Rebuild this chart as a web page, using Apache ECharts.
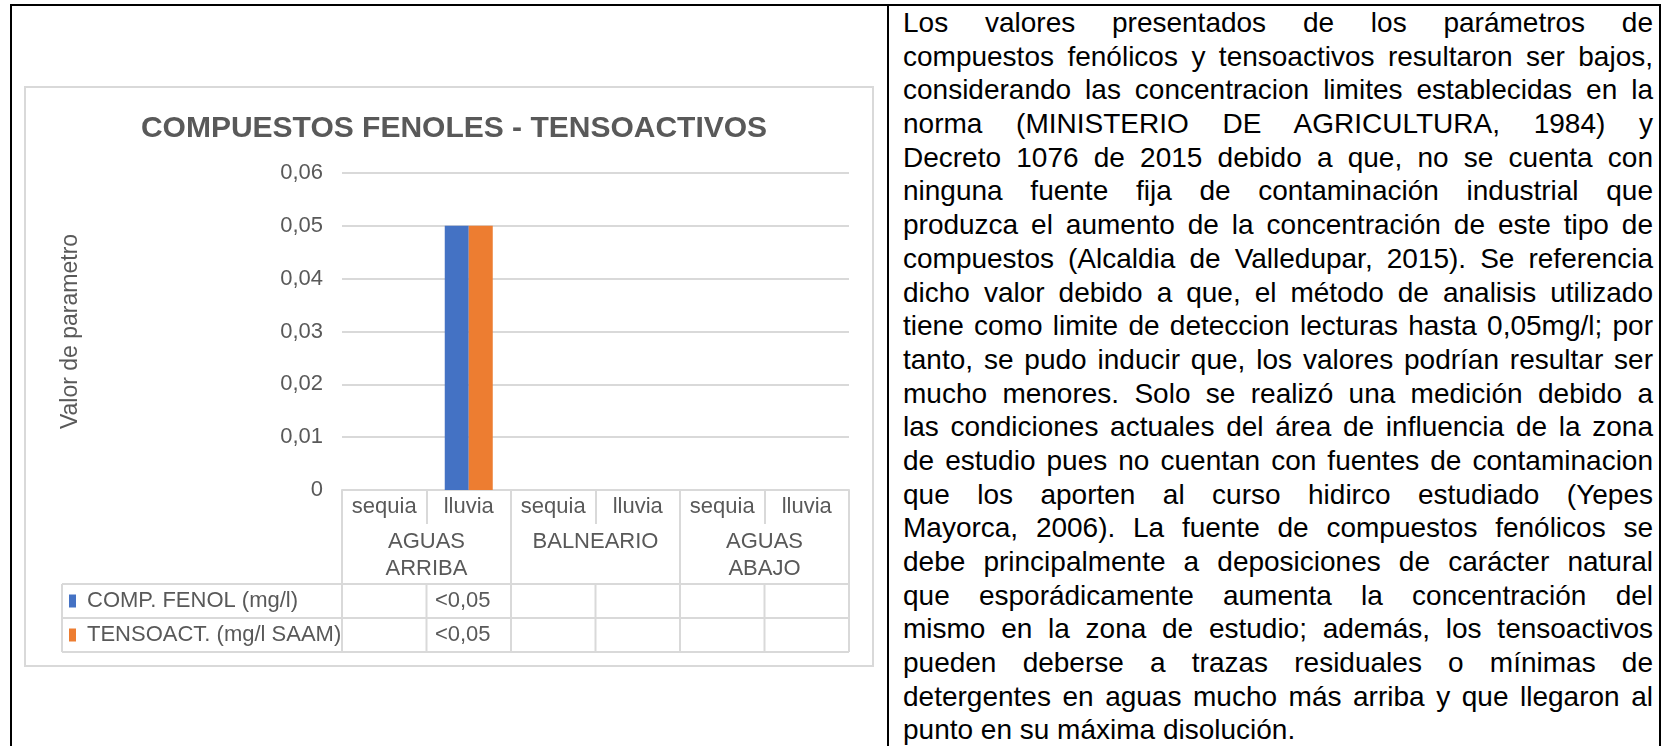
<!DOCTYPE html>
<html>
<head>
<meta charset="utf-8">
<script src="https://cdn.jsdelivr.net/npm/echarts@6/dist/echarts.min.js"></script>
<style>
  html, body { margin: 0; padding: 0; background: #fff; }
  body { width: 1661px; height: 746px; position: relative; overflow: hidden; font-family: "Liberation Sans", Arial, sans-serif; }
  .frame-top { position: absolute; left: 10px; top: 4px; width: 1651px; height: 2px; background: #000; }
  .frame-left { position: absolute; left: 10px; top: 4px; width: 2px; height: 742px; background: #000; }
  .frame-mid { position: absolute; left: 887px; top: 4px; width: 2px; height: 742px; background: #000; }
  .frame-right { position: absolute; left: 1659px; top: 4px; width: 2px; height: 742px; background: #000; }
  #chart { position: absolute; left: 0; top: 0; width: 880px; height: 746px; }
  .texto { position: absolute; left: 903px; top: 6px; width: 750px; font-size: 28px; color: #000; }
  .texto div { height: 33.7px; line-height: 33.7px; white-space: nowrap; text-align: justify; text-align-last: justify; }
  .texto div.ultima { text-align-last: left; }
</style>
</head>
<body>
<div class="frame-top"></div>
<div class="frame-left"></div>
<div class="frame-mid"></div>
<div class="frame-right"></div>
<div id="chart"></div>
<div class="texto" id="texto"></div>
<script>
// datos del grafico
const subCategories = ['sequia', 'lluvia', 'sequia', 'lluvia', 'sequia', 'lluvia'];
const stations = ['AGUAS\nARRIBA', 'BALNEARIO', 'AGUAS\nABAJO'];
const seriesNames = ['COMP. FENOL (mg/l)', 'TENSOACT. (mg/l SAAM)'];
const fenolValues = [null, 0.05, null, null, null, null];
const tensoValues = [null, 0.05, null, null, null, null];
const fenolTable = ['', '<0,05', '', '', '', ''];
const tensoTable = ['', '<0,05', '', '', '', ''];
const yMin = 0, yMax = 0.06, yStep = 0.01;

// texto del documento, una linea por renglon
const lineas = [
  'Los valores presentados de los parámetros de',
  'compuestos fenólicos y tensoactivos resultaron ser bajos,',
  'considerando las concentracion limites establecidas en la',
  'norma (MINISTERIO DE AGRICULTURA, 1984) y',
  'Decreto 1076 de 2015 debido a que, no se cuenta con',
  'ninguna fuente fija de contaminación industrial que',
  'produzca el aumento de la concentración de este tipo de',
  'compuestos (Alcaldia de Valledupar, 2015). Se referencia',
  'dicho valor debido a que, el método de analisis utilizado',
  'tiene como limite de deteccion lecturas hasta 0,05mg/l; por',
  'tanto, se pudo inducir que, los valores podrían resultar ser',
  'mucho menores. Solo se realizó una medición debido a',
  'las condiciones actuales del área de influencia de la zona',
  'de estudio pues no cuentan con fuentes de contaminacion',
  'que los aporten al curso hidirco estudiado (Yepes',
  'Mayorca, 2006). La fuente de compuestos fenólicos se',
  'debe principalmente a deposiciones de carácter natural',
  'que esporádicamente aumenta la concentración del',
  'mismo en la zona de estudio; además, los tensoactivos',
  'pueden deberse a trazas residuales o mínimas de',
  'detergentes en aguas mucho más arriba y que llegaron al',
  'punto en su máxima disolución.'
];
const texto = document.getElementById('texto');
lineas.forEach((l, i) => {
  const d = document.createElement('div');
  d.textContent = l;
  if (i === lineas.length - 1) d.className = 'ultima';
  texto.appendChild(d);
});

const colors = ['#4472C4', '#ED7D31'];
const grey = '#595959';
const lineGrey = '#d9d9d9';
const font = '"Liberation Sans", Arial, sans-serif';

const chart = echarts.init(document.getElementById('chart'));
chart.setOption({
  animation: false,
  textStyle: { fontFamily: font },
  title: {
    text: 'COMPUESTOS FENOLES - TENSOACTIVOS',
    left: 449, top: 109, textAlign: 'center',
    textStyle: { fontSize: 30, fontWeight: 'bold', color: grey, fontFamily: font }
  },
  grid: { left: 342, right: 31, top: 173, bottom: 256 },
  xAxis: [
    {
      type: 'category', data: subCategories, position: 'bottom',
      axisLine: { show: true, lineStyle: { color: lineGrey, width: 2 } },
      axisTick: { show: true, interval: 0, length: 34, lineStyle: { color: lineGrey, width: 2 } },
      axisLabel: { interval: 0, margin: 6, fontSize: 22, color: grey, lineHeight: 22 }
    },
    {
      type: 'category', data: stations, position: 'bottom', offset: 34,
      axisLine: { show: false },
      axisTick: { show: true, interval: 0, length: 60, lineStyle: { color: lineGrey, width: 2 } },
      axisLabel: { interval: 0, margin: 4, fontSize: 22, color: grey, lineHeight: 27 }
    }
  ],
  yAxis: {
    type: 'value', min: yMin, max: yMax, interval: yStep,
    name: 'Valor de parametro', nameLocation: 'middle', nameRotate: 90, nameGap: 260,
    nameTextStyle: { fontSize: 23, color: grey },
    axisLine: { show: false }, axisTick: { show: false },
    axisLabel: {
      fontSize: 22, color: grey, margin: 19,
      formatter: v => (v === 0 ? '0' : v.toFixed(2).replace('.', ','))
    },
    splitLine: { lineStyle: { color: lineGrey, width: 2 } }
  },
  series: [
    { name: seriesNames[0], type: 'bar', data: fenolValues, barWidth: 24, barGap: '0%', itemStyle: { color: colors[0] } },
    { name: seriesNames[1], type: 'bar', data: tensoValues, barWidth: 24, barGap: '0%', itemStyle: { color: colors[1] } }
  ]
});

// tabla de datos bajo el eje, a partir de las posiciones del eje
const c0 = chart.convertToPixel({ xAxisIndex: 0 }, 0);
const c1 = chart.convertToPixel({ xAxisIndex: 0 }, 1);
const band = c1 - c0;
const edges = subCategories.map((_, i) => c0 - band / 2 + i * band).concat([c0 - band / 2 + subCategories.length * band]);
const yZero = chart.convertToPixel({ yAxisIndex: 0 }, 0);
const tableTop = yZero + 34 + 60;
const rowH = 34;
const tableLeft = 62;
const tableRight = edges[edges.length - 1];
const g = [];
const ln = (x1, y1, x2, y2) => ({ type: 'line', shape: { x1, y1, x2, y2 }, style: { stroke: lineGrey, lineWidth: 2 } });
for (let r = 0; r <= 2; r++) g.push(ln(tableLeft, tableTop + r * rowH, tableRight, tableTop + r * rowH));
g.push(ln(tableLeft, tableTop, tableLeft, tableTop + 2 * rowH));
edges.forEach(x => g.push(ln(x, tableTop, x, tableTop + 2 * rowH)));
[fenolTable, tensoTable].forEach((row, r) => {
  const cy = tableTop + r * rowH + rowH / 2;
  g.push({ type: 'rect', shape: { x: 69, y: cy - 6.5, width: 7, height: 13 }, style: { fill: colors[r] } });
  g.push({ type: 'text', x: 87, y: cy, style: { text: seriesNames[r], fontSize: 22, fill: grey, fontFamily: font, verticalAlign: 'middle', align: 'left' } });
  row.forEach((t, i) => {
    if (!t) return;
    g.push({ type: 'text', x: (edges[i] + edges[i + 1]) / 2 - 6, y: cy, style: { text: t, fontSize: 22, fill: grey, fontFamily: font, verticalAlign: 'middle', align: 'center' } });
  });
});
// borde del area del grafico
g.push({ type: 'rect', shape: { x: 25, y: 87, width: 848, height: 579 }, style: { fill: 'none', stroke: lineGrey, lineWidth: 2 } });
chart.setOption({ graphic: g });
</script>
</body>
</html>
